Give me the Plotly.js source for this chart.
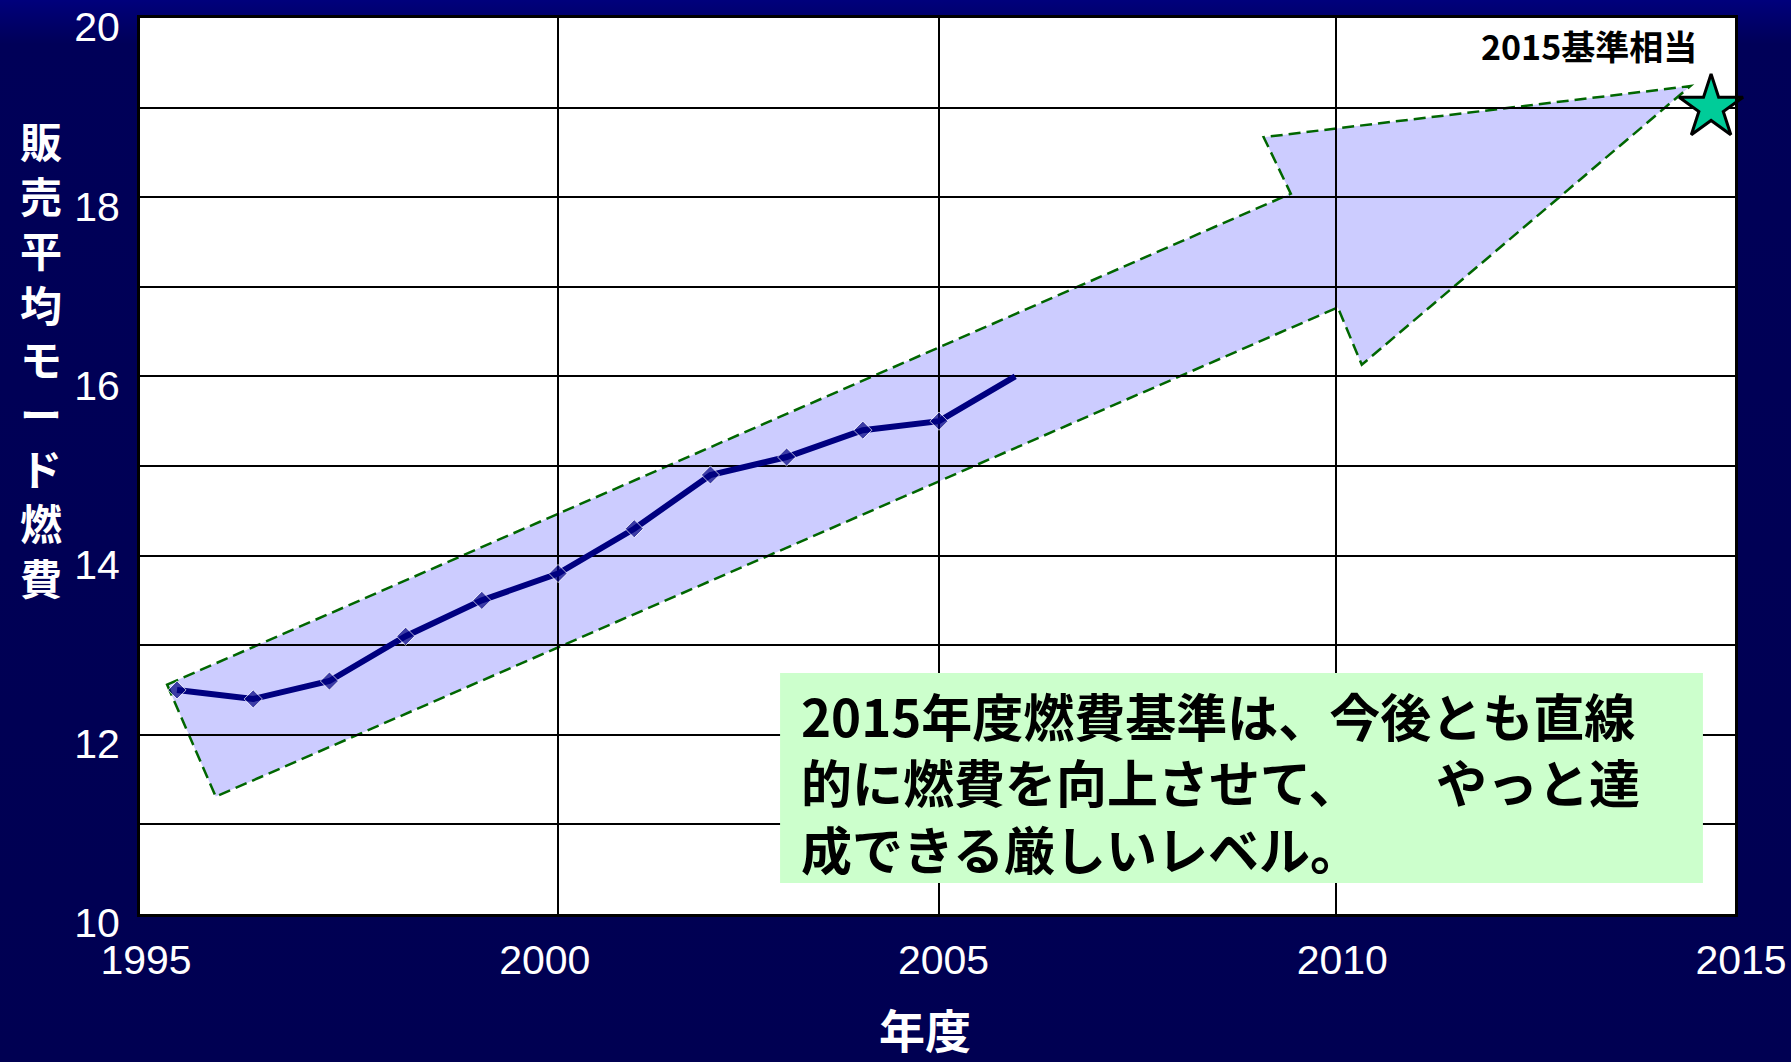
<!DOCTYPE html>
<html>
<head>
<meta charset="utf-8">
<script src="https://cdn.plot.ly/plotly-3.0.1.min.js"></script>
<style>
  html, body { margin: 0; padding: 0; background: #000055; }
  #chart { width: 1791px; height: 1062px;
           background: linear-gradient(to bottom, #00007c 0px, #000070 14px, #000058 44px, #000052 100%); }
</style>
</head>
<body>
<div id="chart"></div>
<script>
// ---- data ----
const years = [1995, 1996, 1997, 1998, 1999, 2000, 2001, 2002, 2003, 2004, 2005, 2006];
const fuelEconomy = [12.5, 12.4, 12.6, 13.1, 13.5, 13.8, 14.3, 14.9, 15.1, 15.4, 15.5, 16.0];

const targetYear = [2014.7];
const targetValue = [19.0];
const targetLabel = '2015基準相当';

// arrow outline (x in years, y in km/L)
const arrowX = [1995.34, 2009.43, 2009.09, 2014.44, 2010.32, 2010.02, 1995.95];
const arrowY = [12.56, 18.04, 18.67, 19.24, 16.13, 16.77, 11.31];

const xTickVals = [1995, 2000, 2005, 2010, 2015];
const xTickText = ['1995', '2000', '2005', '2010', '2015'];
const yTickVals = [10, 12, 14, 16, 18, 20];
const yTickText = ['10', '12', '14', '16', '18', '20'];

const yTitleChars = ['販', '売', '平', '均', 'モ', 'ー', 'ド', '燃', '費'];
const xTitle = '年度';
const noteLines = ['2015年度燃費基準は、今後とも直線', '的に燃費を向上させて、　　やっと達', '成できる厳しいレベル。'];

// ---- drawing ----
const NUM_FONT = '"Liberation Sans", Arial, sans-serif';
const JP_FONT = '"Noto Sans CJK JP", "Noto Sans", sans-serif';

const arrowPath = arrowX.map((x, i) => (i === 0 ? 'M' : 'L') + x + ',' + arrowY[i]).join(' ') + ' Z';

const traces = [
  {
    x: years, y: fuelEconomy, xaxis: 'x2', yaxis: 'y',
    type: 'scatter', mode: 'lines+markers',
    line: { color: '#000080', width: 6 },
    marker: { symbol: 'diamond', color: '#000080', size: years.map((_, i) => i === years.length - 1 ? 0 : 14) },
    hoverinfo: 'skip', showlegend: false
  },
  {
    x: targetYear, y: targetValue, xaxis: 'x3', yaxis: 'y',
    type: 'scatter', mode: 'markers', cliponaxis: false,
    marker: { symbol: 'star', size: 48, color: '#00CC99', line: { color: '#000000', width: 3 } },
    hoverinfo: 'skip', showlegend: false
  }
];

const gridStyle = { gridcolor: '#000000', gridwidth: 2 };

const layout = {
  width: 1791, height: 1062,
  paper_bgcolor: 'rgba(0,0,0,0)', plot_bgcolor: '#ffffff',
  margin: { l: 140, r: 56, t: 18, b: 148, pad: 0 },
  showlegend: false,
  xaxis: {
    range: [1995, 2015], tickmode: 'array', tickvals: xTickVals, ticktext: xTickText,
    showgrid: false, zeroline: false,
    showline: true, mirror: true, linecolor: '#000000', linewidth: 3,
    ticks: 'outside', ticklen: 8, tickcolor: 'rgba(0,0,0,0)', ticklabelshift: 6,
    ticklabeloverflow: 'allow',
    tickfont: { family: NUM_FONT, size: 41, color: '#ffffff' }
  },
  xaxis2: {
    overlaying: 'x', side: 'bottom', range: [1994.514, 2015.446],
    tickmode: 'array', tickvals: [2000, 2005], showticklabels: false, ticks: '',
    showgrid: true, ...gridStyle, zeroline: false, showline: false
  },
  xaxis3: {
    overlaying: 'x', side: 'bottom', range: [1995, 2015],
    tickmode: 'array', tickvals: [2010], showticklabels: false, ticks: '',
    showgrid: true, ...gridStyle, zeroline: false, showline: false
  },
  yaxis: {
    range: [10, 20], tickmode: 'array', tickvals: yTickVals, ticktext: yTickText,
    showgrid: true, ...gridStyle, zeroline: false,
    minor: { dtick: 1, showgrid: true, ...gridStyle, ticks: '' },
    showline: true, mirror: true, linecolor: '#000000', linewidth: 3,
    ticks: 'outside', ticklen: 9, tickcolor: 'rgba(0,0,0,0)', ticklabelshift: 9,
    ticklabeloverflow: 'allow',
    tickfont: { family: NUM_FONT, size: 41, color: '#ffffff' }
  },
  shapes: [
    {
      type: 'path', xref: 'x', yref: 'y', path: arrowPath, layer: 'below',
      fillcolor: '#CCCCFF', line: { color: '#006600', width: 2.5, dash: '12px,6px' }
    },
    {
      type: 'rect', xref: 'paper', yref: 'paper', layer: 'above',
      x0: 0.4013, x1: 0.9799, y0: 0.0346, y1: 0.269,
      fillcolor: '#CCFFCC', line: { width: 0 }
    }
  ],
  annotations: [
    {
      xref: 'paper', yref: 'paper', x: -0.062, y: 0.6205, xanchor: 'center', yanchor: 'middle',
      text: yTitleChars.join('<br>'), showarrow: false,
      font: { family: JP_FONT, size: 42, color: '#ffffff', weight: 'bold' }
    },
    {
      xref: 'paper', yref: 'paper', x: 0.492, y: -0.1272, xanchor: 'center', yanchor: 'middle',
      text: xTitle, showarrow: false,
      font: { family: JP_FONT, size: 46, color: '#ffffff', weight: 'bold' }
    },
    {
      xref: 'paper', yref: 'paper', x: 0.9085, y: 0.9688, xanchor: 'center', yanchor: 'middle',
      text: targetLabel, showarrow: false,
      font: { family: JP_FONT, size: 34, color: '#000000', weight: 'bold' }
    },
    {
      xref: 'paper', yref: 'paper', x: 0.4144, y: 0.1484, xanchor: 'left', yanchor: 'middle',
      text: noteLines.join('<br>'), showarrow: false, align: 'left',
      borderpad: 0, borderwidth: 0,
      font: { family: JP_FONT, size: 51, color: '#000000', weight: 'bold' }
    }
  ]
};

Plotly.newPlot('chart', traces, layout, { staticPlot: true, displayModeBar: false });
</script>
</body>
</html>
